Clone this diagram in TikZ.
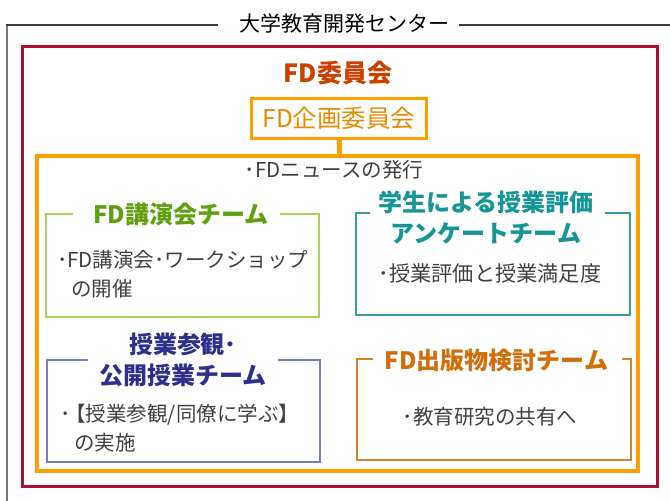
\documentclass[tikz,border=0pt]{standalone}
\usepackage{fontspec}
\newfontfamily\jp{Noto Sans CJK JP}
\definecolor{framegray}{RGB}{60,60,60}
\definecolor{sidegray}{RGB}{120,120,120}
\definecolor{fdred}{RGB}{176,16,48}
\definecolor{fdredtext}{RGB}{204,64,0}
\definecolor{planorange}{RGB}{255,160,0}
\definecolor{plantext}{RGB}{232,138,0}
\definecolor{bodygray}{RGB}{64,64,64}
\definecolor{greenline}{RGB}{170,210,90}
\definecolor{greentext}{RGB}{96,160,16}
\definecolor{tealline}{RGB}{60,156,156}
\definecolor{tealtext}{RGB}{20,150,150}
\definecolor{blueline}{RGB}{120,124,196}
\definecolor{bluetext}{RGB}{44,48,140}
\definecolor{orline}{RGB}{217,128,40}
\definecolor{ortext}{RGB}{210,110,10}
\begin{document}
\begin{tikzpicture}[x=1pt,y=-1pt,
  teamtitle/.style={font=\jp\bfseries\fontsize{24}{31}\selectfont, align=center, inner sep=0pt},
  bodytext/.style={font=\jp\fontsize{20.5}{29}\selectfont, text=bodygray, inner sep=0pt},
  teamline/.style={line width=1.4pt}]
\useasboundingbox (0,0) rectangle (670,501);
% outer frame
\node[font=\jp\fontsize{21}{24}\selectfont, inner sep=0pt] (center) at (344.5,24) {大学教育開発センター};
\draw[sidegray, line width=1.3pt] (7,25) -- (7,503);
\draw[framegray, line width=1.3pt] (218,25) -- (6.35,25);
\draw[framegray, line width=1.3pt] (459,25) -- (672,25);
% red box
\draw[fdred, line width=3pt] (22,46) rectangle (657,486);
\node[font=\jp\bfseries\fontsize{25}{28}\selectfont, text=fdredtext, inner sep=0pt] (fdc) at (338,73) {FD委員会};
% planning committee
\node[draw=planorange, line width=3pt, minimum width=175pt, minimum height=40pt, inner sep=0pt,
      font=\jp\fontsize{24.5}{27}\selectfont, text=plantext] (kikaku) at (339,118) {FD企画委員会};
\node[draw=planorange, line width=3.5pt, minimum width=601pt, minimum height=315pt, inner sep=0pt] (plan) at (337.5,313.5) {};
\draw[planorange, line width=5pt] (kikaku.south) -- (kikaku.south |- plan.north);
\node[bodytext] (news) at (334,170) {･FDニュースの発行};
% green team
\draw[greenline, teamline] (73,214) -- (46,214) -- (46,317) -- (319,317) -- (319,214) -- (280,214);
\node[teamtitle, text=greentext] (lecture) at (181,214) {FD講演会チーム};
\node[bodytext, align=left, anchor=west] (lecturebody) at (57,274.5) {･FD講演会･ワークショップ\\\hspace*{14pt}の開催};
% teal team
\draw[tealline, teamline] (370,213) -- (356,213) -- (356,315) -- (630,315) -- (630,213) -- (605,213);
\node[teamtitle, text=tealtext] (survey) at (486,217.5) {学生による授業評価\\アンケートチーム};
\node[bodytext, font=\jp\fontsize{21.2}{29}\selectfont] (surveybody) at (490,273) {･授業評価と授業満足度};
% blue team
\draw[blueline, teamline] (88,360) -- (47,360) -- (47,462) -- (320,462) -- (320,360) -- (278,360);
\node[teamtitle, text=bluetext] (visit) at (183,360) {授業参観･\\公開授業チーム};
\node[bodytext, align=left, anchor=west] (visitbody) at (60,428.5) {･\hspace{-5pt}【授業参観/同僚に学ぶ】\\\hspace*{14pt}の実施};
% orange team
\draw[orline, teamline] (373,359) -- (357,359) -- (357,460) -- (631,460) -- (631,359) -- (622,359);
\node[teamtitle, text=ortext] (publish) at (496.5,360) {FD出版物検討チーム};
\node[bodytext] (publishbody) at (490,417) {･教育研究の共有へ};
\end{tikzpicture}
\end{document}
